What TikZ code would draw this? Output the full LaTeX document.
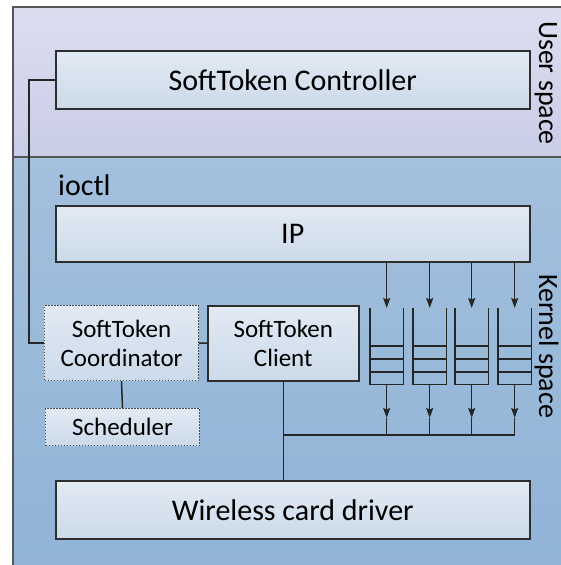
\documentclass[tikz,border=0pt]{standalone}
\usepackage{fontspec}
\setmainfont{Carlito}
\usetikzlibrary{arrows.meta}

\definecolor{usertop}{HTML}{DCDEF0}
\definecolor{userbot}{HTML}{C9CCE6}
\definecolor{kerntop}{HTML}{A3C0DD}
\definecolor{kernbot}{HTML}{8EB2D6}
\definecolor{boxtop}{HTML}{E2EAF4}
\definecolor{boxbot}{HTML}{CBDAE9}
\definecolor{edge}{HTML}{2E2E2E}
\definecolor{frameedge}{HTML}{555555}

\tikzset{
  bigfont/.style={font=\fontsize{30}{36}\selectfont},
  smallfont/.style={font=\fontsize{25}{29}\selectfont},
  box/.style={draw=edge, line width=1.5pt, top color=boxtop, bottom color=boxbot,
              anchor=north west, inner sep=0pt, align=center},
  dotbox/.style={draw=edge!85, line width=1pt, dash pattern=on 1.2pt off 1.8pt,
                 top color=boxtop, bottom color=boxbot,
                 anchor=north west, inner sep=0pt, align=center, smallfont},
  wire/.style={draw=black!85, line width=1.5pt},
  arr/.style={wire, -{Stealth[length=10pt,width=7pt,inset=1.5pt]}},
  queuebox/.style={anchor=north west, minimum width=33pt, minimum height=76pt,
                   inner sep=0pt, draw=none},
  qline/.style={draw=black!85, line width=1.3pt},
  spacelabel/.style={font=\fontsize{28}{34}\selectfont, rotate=-90, anchor=base, inner sep=0pt},
}

\begin{document}
\begin{tikzpicture}[x=1pt, y=-1pt]
  \useasboundingbox (0,0) rectangle (561,565);
  \clip (0,0) rectangle (561,565);

  % user space and kernel space bands
  \shade[top color=usertop, bottom color=userbot] (13,7) rectangle (600,157);
  \shade[top color=kerntop, bottom color=kernbot] (13,157) rectangle (600,600);
  \draw[frameedge, line width=1.5pt] (13,157) -- (600,157);
  \draw[frameedge, line width=2pt] (13,600) -- (13,7) -- (600,7);

  \node[spacelabel] (userlbl) at (539,83) {User space};
  \node[spacelabel] (kernlbl) at (539,346) {Kernel space};

  % components
  \node[box, bigfont, minimum width=474pt, minimum height=58pt] (ctrl) at (55,50) {SoftToken Controller};
  \node[bigfont, anchor=base west, inner sep=0pt] (ioctl) at (58,195) {ioctl};
  \node[box, bigfont, minimum width=474pt, minimum height=56pt] (ip) at (55,205) {IP};
  \node[dotbox, minimum width=154pt, minimum height=75pt] (coord) at (44,305) {SoftToken\\Coordinator};
  \node[box, smallfont, minimum width=151pt, minimum height=75pt] (client) at (207,305) {SoftToken\\Client};
  \node[dotbox, minimum width=154pt, minimum height=37pt] (sched) at (45,408) {Scheduler};
  \node[box, bigfont, minimum width=474pt, minimum height=58pt] (wifi) at (55,480) {Wireless card driver};

  % queues
  \foreach \i/\x in {1/370, 2/413, 3/455, 4/498} {
    \node[queuebox] (q\i) at (\x,308) {};
    \draw[qline] (q\i.north west) -- (q\i.south west) -- (q\i.south east) -- (q\i.north east);
    \foreach \yy in {346,359,372}
      \draw[qline] (q\i.west |- 0,\yy) -- (q\i.east |- 0,\yy);
  }

  \coordinate (tipline) at (0,418);
  \coordinate (busline) at (0,435);

  % connectors
  \draw[wire] (ctrl.west) -- ++(-26,0) |- (coord.west);
  \draw[wire] (coord.east) -- (client.west);
  \draw[wire] (coord.south) -- (sched.north);
  \draw[wire] (client.south) -- (client.south |- wifi.north);
  \draw[wire] (client.south |- busline) -- (q4.south |- busline);
  \foreach \i in {1,...,4} {
    \draw[arr] (q\i.north |- ip.south) -- (q\i.north);
    \draw[arr] (q\i.south) -- (q\i.south |- tipline);
    \draw[wire] (q\i.south |- tipline) -- (q\i.south |- busline);
  }
\end{tikzpicture}
\end{document}
